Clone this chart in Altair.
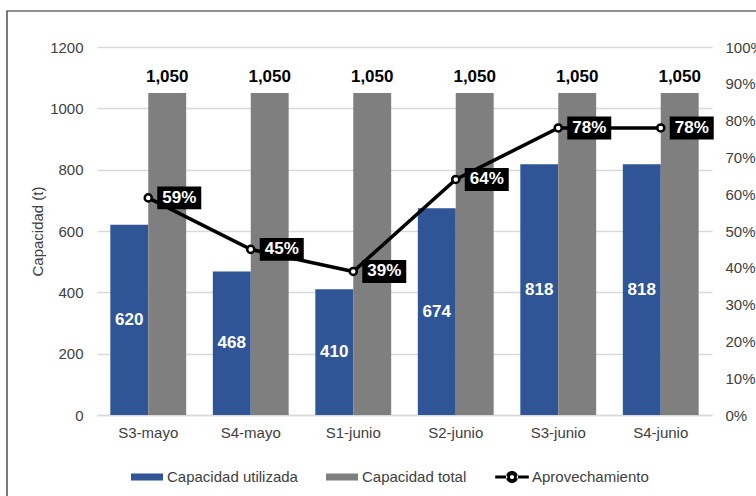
import altair as alt
import pandas as pd

semanas = ["S3-mayo", "S4-mayo", "S1-junio", "S2-junio", "S3-junio", "S4-junio"]
utilizada = [620, 468, 410, 674, 818, 818]
total = [1050, 1050, 1050, 1050, 1050, 1050]
aprovechamiento = [0.59, 0.45, 0.39, 0.64, 0.78, 0.78]

series = ["Capacidad utilizada", "Capacidad total", "Aprovechamiento"]
colores = ["#2F5597", "#7F7F7F", "#000000"]

bars_df = pd.DataFrame({
    "semana": semanas * 2,
    "serie": [series[0]] * len(semanas) + [series[1]] * len(semanas),
    "valor": utilizada + total,
})
line_df = pd.DataFrame({"semana": semanas, "pct": aprovechamiento})
legend_df = pd.DataFrame({"serie": series})

FONT = "Liberation Sans"
TXT = "#404040"
FS = 15
LFS = 17

x_enc = alt.X("semana:N", sort=semanas, title=None,
              scale=alt.Scale(paddingInner=0.26, paddingOuter=0.13),
              axis=alt.Axis(labelAngle=0, labelFontSize=FS, labelColor=TXT, labelPadding=10,
                            ticks=False, domainColor="#D9D9D9", domainWidth=1.5))
xoff = alt.XOffset("serie:N", sort=series[:2],
                   scale=alt.Scale(domain=series[:2], paddingInner=0, paddingOuter=0))

y_left_axis = alt.Axis(values=[0, 200, 400, 600, 800, 1000, 1200], format="d", labelFontSize=FS,
                       labelColor=TXT, labelPadding=14, ticks=False, domain=False,
                       gridColor="#D9D9D9", gridWidth=1.5, titleFontSize=FS,
                       titleFontWeight="normal", titleColor=TXT, titlePadding=4)
y_left_scale = alt.Scale(domain=[0, 1200], nice=False)

sym_bar = "M-1,-0.22H1V0.22H-1Z"
sym_line = ("M-1.05,-0.1H-0.3V0.1H-1.05Z M0.3,-0.1H1.05V0.1H0.3Z "
            "M-0.38,0A0.38,0.38 0 1,0 0.38,0A0.38,0.38 0 1,0 -0.38,0Z "
            "M-0.13,0A0.13,0.13 0 1,1 0.13,0A0.13,0.13 0 1,1 -0.13,0Z")

legend = alt.Legend(
    title=None, orient="none", direction="horizontal", columns=3,
    legendX=34, legendY=414, symbolSize=1024, symbolStrokeWidth=0, symbolOpacity=1,
    labelFontSize=FS, labelColor=TXT, labelOffset=4, columnPadding=28,
)

color_scale = alt.Scale(domain=series, range=colores)

bars = alt.Chart(bars_df).mark_bar().encode(
    x=x_enc, xOffset=xoff,
    y=alt.Y("valor:Q", title="Capacidad (t)", scale=y_left_scale, axis=y_left_axis),
    color=alt.Color("serie:N", scale=color_scale, legend=legend),
)

top_labels = alt.Chart(bars_df).transform_filter(
    alt.datum.serie == series[1]
).mark_text(font=FONT, fontSize=LFS, fontWeight="bold", color="#000000", dy=-16).encode(
    x=x_enc, xOffset=xoff,
    y=alt.Y("valor:Q", title="Capacidad (t)", scale=y_left_scale, axis=y_left_axis),
    text=alt.Text("valor:Q", format=","),
)

inner_labels = alt.Chart(bars_df).transform_filter(
    alt.datum.serie == series[0]
).transform_calculate(mitad="datum.valor / 2").mark_text(
    font=FONT, fontSize=LFS, fontWeight="bold", color="#FFFFFF"
).encode(
    x=x_enc, xOffset=xoff,
    y=alt.Y("mitad:Q", title="Capacidad (t)", scale=y_left_scale, axis=y_left_axis),
    text=alt.Text("valor:Q", format=","),
)

left = alt.layer(bars, top_labels, inner_labels)

y_right_scale = alt.Scale(domain=[0, 1], nice=False)
y_right_axis = alt.Axis(orient="right", format=".0%", values=[i / 10 for i in range(11)],
                        labelFontSize=FS, labelColor=TXT, labelPadding=13, ticks=False,
                        domain=False, grid=False, title=None)
y_right = alt.Y("pct:Q", scale=y_right_scale, axis=y_right_axis)

line = alt.Chart(line_df).mark_line(color="#000000", strokeWidth=3.5).encode(x=x_enc, y=y_right)
points = alt.Chart(line_df).mark_point(
    shape="circle", size=50, filled=True, fill="#FFFFFF", stroke="#000000", strokeWidth=2.5, opacity=1
).encode(x=x_enc, y=y_right)
boxes = alt.Chart(line_df).mark_point(
    shape="M-1,-0.52H1V0.52H-1Z", size=1936, filled=True, color="#000000", opacity=1, xOffset=31
).encode(x=x_enc, y=y_right)
pct_text = alt.Chart(line_df).mark_text(
    font=FONT, fontSize=LFS, fontWeight="bold", color="#FFFFFF", dx=31
).encode(x=x_enc, y=y_right, text=alt.Text("pct:Q", format=".0%"))

right = alt.layer(line, points, boxes, pct_text)

legend_layer = alt.Chart(legend_df).mark_point(filled=True, opacity=0, size=1024).encode(
    color=alt.Color("serie:N", scale=color_scale, legend=legend),
    shape=alt.Shape("serie:N", scale=alt.Scale(domain=series, range=[sym_bar, sym_bar, sym_line]),
                    legend=legend),
)

border = alt.Chart(pd.DataFrame({"a": [0]})).mark_rect(
    filled=False, stroke="#262626", strokeWidth=1.2
).encode(x=alt.value(-90), x2=alt.value(720), y=alt.value(-36), y2=alt.value(470))

chart = alt.layer(left, right, legend_layer, border).resolve_scale(y="independent").properties(
    width=615, height=368,
    autosize=alt.AutoSizeParams(type="none"),
    padding={"left": 97, "top": 47, "right": 44, "bottom": 81},
).configure(font=FONT).configure_view(stroke=None)

chart.save("out.html", embed_options={"renderer": "svg", "actions": False})
